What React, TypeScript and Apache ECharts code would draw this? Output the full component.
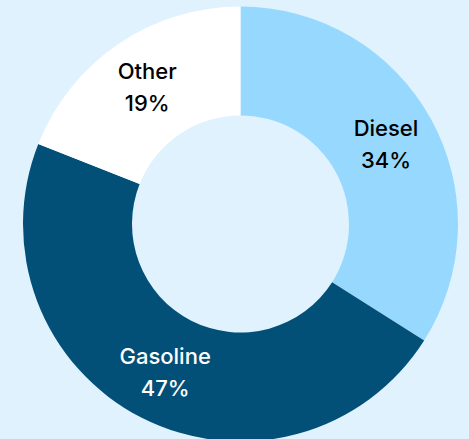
import React, { useEffect, useRef } from "react";
import * as echarts from "echarts";

const categories = ["Diesel", "Gasoline", "Other"];
const values = [34, 47, 19];
const colors = ["#97d9fe", "#024f78", "#ffffff"];
const labelColors = ["#000000", "#ffffff", "#000000"];

export default function App() {
  const ref = useRef<HTMLDivElement>(null);
  useEffect(() => {
    document.body.style.margin = "0";
    const chart = echarts.init(ref.current!, null, { renderer: "svg" });
    chart.setOption({
      animation: false,
      backgroundColor: "#dff2fe",
      series: [
        {
          type: "pie",
          center: [240.5, 224],
          radius: [108.5, 217.5],
          startAngle: 90,
          clockwise: true,
          silent: true,
          label: {
            show: true,
            position: "inside",
            formatter: "{b}\n{c}%",
            fontFamily: "Inter",
            fontSize: 22,
            lineHeight: 32,
            fontWeight: 500,
          },
          labelLine: { show: false },
          data: categories.map((name, i) => ({
            name,
            value: values[i],
            itemStyle: { color: colors[i] },
            label: { color: labelColors[i] },
          })),
        },
      ],
    });
    return () => chart.dispose();
  }, []);
  return (
    <div
      ref={ref}
      style={{ position: "fixed", left: 0, top: 0, width: 469, height: 439 }}
    />
  );
}
